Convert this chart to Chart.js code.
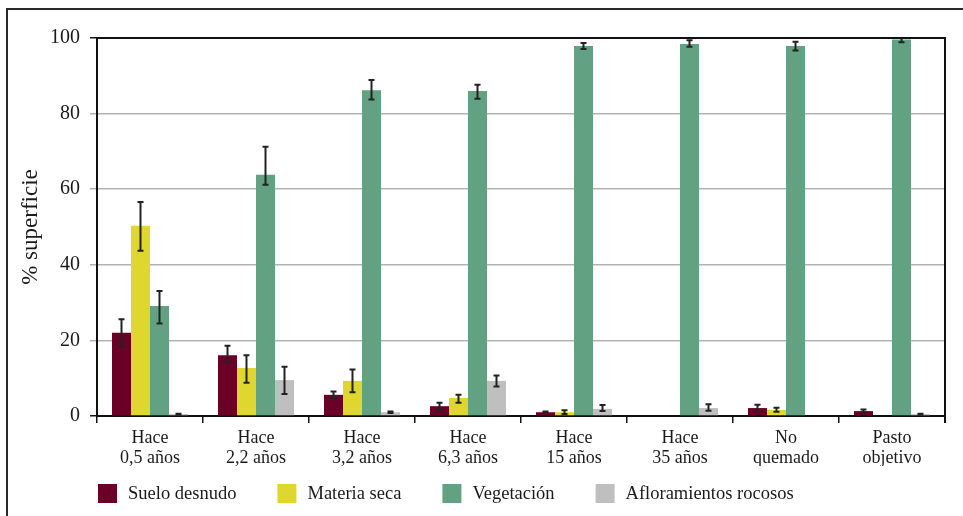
<!DOCTYPE html>
<html><head><meta charset="utf-8">
<script src="https://cdn.jsdelivr.net/npm/chart.js@4.4.1/dist/chart.umd.min.js"></script>
<style>html,body{margin:0;padding:0;background:#fff;overflow:hidden}#wrap{position:relative;width:963px;height:516px}</style>
</head><body><div id="wrap"><canvas id="c" width="963" height="516"></canvas></div>
<script>
const categories = [["Hace","0,5 años"],["Hace","2,2 años"],["Hace","3,2 años"],["Hace","6,3 años"],["Hace","15 años"],["Hace","35 años"],["No","quemado"],["Pasto","objetivo"]];
const seriesNames = ["Suelo desnudo","Materia seca","Vegetación","Afloramientos rocosos"];
const yTicks = [0,20,40,60,80,100];

const sueloDesnudo     = [22.0, 16.1, 5.6, 2.6, 1.0, 0, 2.1, 1.3];
const sueloDesnudoHigh = [25.6, 18.6, 6.5, 3.5, 1.2, null, 3.0, 1.7];
const sueloDesnudoLow  = [18.3, 14.2, 4.6, 1.8, 0.8, null, 1.3, 0.9];

const materiaSeca      = [50.3, 12.7, 9.3, 4.8, 1.0, 0, 1.6, 0];
const materiaSecaHigh  = [56.6, 16.1, 12.3, 5.6, 1.5, null, 2.2, null];
const materiaSecaLow   = [43.7, 8.8, 6.3, 3.5, 0.5, null, 1.1, null];

const vegetacion       = [29.1, 63.8, 86.2, 86.0, 97.9, 98.4, 97.9, 99.6];
const vegetacionHigh   = [33.1, 71.2, 88.9, 87.6, 98.7, 99.4, 99.0, 100.0];
const vegetacionLow    = [24.5, 61.2, 83.7, 83.9, 97.1, 97.7, 96.7, 98.9];

const afloramientos     = [0.5, 9.5, 1.0, 9.3, 1.9, 2.1, 0, 0.5];
const afloramientosHigh = [0.6, 13.0, 1.2, 10.7, 2.9, 3.1, null, 0.6];
const afloramientosLow  = [0.4, 5.8, 0.8, 7.8, 1.3, 1.4, null, 0.4];

const colors = ["#6b0026","#e0d630","#62a283","#bfbfbf"];
const FONT = '"Liberation Serif","Times New Roman",serif';
const TEXT = '#1a1a1a';

const datasets = [
  {label: seriesNames[0], data: sueloDesnudo, errHigh: sueloDesnudoHigh, errLow: sueloDesnudoLow},
  {label: seriesNames[1], data: materiaSeca, errHigh: materiaSecaHigh, errLow: materiaSecaLow},
  {label: seriesNames[2], data: vegetacion, errHigh: vegetacionHigh, errLow: vegetacionLow},
  {label: seriesNames[3], data: afloramientos, errHigh: afloramientosHigh, errLow: afloramientosLow}
].map((d,i)=>Object.assign(d,{backgroundColor: colors[i], borderWidth: 0, categoryPercentage: 0.717, barPercentage: 1.0}));

const framePlugin = {
  id: 'frame',
  beforeDraw(chart){
    const ctx = chart.ctx; ctx.save();
    ctx.fillStyle = '#fff'; ctx.fillRect(0,0,chart.width,chart.height);
    ctx.strokeStyle = '#2a2a2a'; ctx.lineWidth = 2;
    ctx.beginPath(); ctx.moveTo(7, chart.height); ctx.lineTo(7, 9); ctx.lineTo(chart.width, 9); ctx.stroke();
    ctx.restore();
  },
  afterDraw(chart){
    const ctx = chart.ctx, a = chart.chartArea; ctx.save();
    ctx.strokeStyle = '#111'; ctx.lineWidth = 2;
    ctx.beginPath(); ctx.moveTo(a.left, a.top); ctx.lineTo(a.right, a.top); ctx.lineTo(a.right, a.bottom + 7); ctx.stroke();
    // legend
    ctx.font = '18.5px ' + FONT;
    ctx.textBaseline = 'middle'; ctx.textAlign = 'left';
    let x = a.left + 1; const top = 484, box = 19;
    chart.data.datasets.forEach(ds => {
      ctx.fillStyle = ds.backgroundColor; ctx.fillRect(x, top, box, box);
      x += box + 11;
      ctx.fillStyle = TEXT; ctx.fillText(ds.label, x, top + box/2 + 1);
      x += ctx.measureText(ds.label).width + 41;
    });
    ctx.restore();
  }
};

const errorBarPlugin = {
  id: 'errorBars',
  afterDatasetsDraw(chart){
    const ctx = chart.ctx, ys = chart.scales.y; ctx.save();
    ctx.strokeStyle = '#222'; ctx.lineWidth = 2;
    chart.data.datasets.forEach((ds,i) => {
      chart.getDatasetMeta(i).data.forEach((bar,j) => {
        const hi = ds.errHigh[j], lo = ds.errLow[j];
        if (hi == null || lo == null) return;
        const x = bar.x, y1 = ys.getPixelForValue(hi), y2 = ys.getPixelForValue(lo);
        ctx.beginPath();
        ctx.moveTo(x, y1); ctx.lineTo(x, y2);
        ctx.moveTo(x-3, y1); ctx.lineTo(x+3, y1);
        ctx.moveTo(x-3, y2); ctx.lineTo(x+3, y2);
        ctx.stroke();
      });
    });
    ctx.restore();
  }
};

new Chart(document.getElementById('c'), {
  type: 'bar',
  data: {labels: categories, datasets},
  options: {
    responsive: false, animation: false, devicePixelRatio: 1,
    layout: {padding: {left: 0, right: 18, top: 38, bottom: 50}},
    plugins: {legend: {display: false}, tooltip: {enabled: false}},
    scales: {
      x: {
        offset: true,
        grid: {display: true, drawOnChartArea: false, drawTicks: true, tickLength: 7, color: '#111', lineWidth: 1.5, offset: true},
        border: {display: true, color: '#111', width: 2},
        ticks: {color: TEXT, font: {family: FONT, size: 18, lineHeight: 1.11}, padding: 5, maxRotation: 0, autoSkip: false},
        afterFit(s){ s.height = 50; }
      },
      y: {
        min: 0, max: 100,
        afterBuildTicks(s){ s.ticks = yTicks.map(v => ({value: v})); },
        grid: {
          color: c => (c.tick && (c.tick.value === 100 || c.tick.value === 0)) ? '#111' : '#b3b3b3',
          tickColor: c => (c.tick && (c.tick.value === 100 || c.tick.value === 0)) ? '#111' : '#b3b3b3',
          lineWidth: 1.5, tickLength: 7
        },
        border: {display: true, color: '#111', width: 2},
        ticks: {color: TEXT, font: {family: FONT, size: 20}, padding: 10},
        title: {display: true, text: '% superficie', color: TEXT, font: {family: FONT, size: 23}, padding: {top: 17, bottom: 0}},
        afterFit(s){ s.width = 97; }
      }
    }
  },
  plugins: [framePlugin, errorBarPlugin]
});
</script></body></html>
